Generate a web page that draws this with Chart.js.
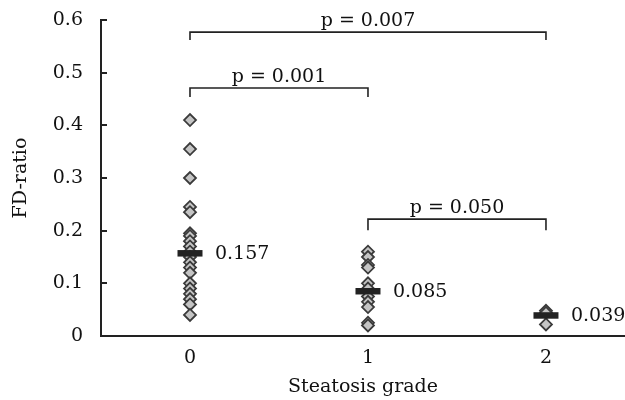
<!DOCTYPE html>
<html>
<head>
<meta charset="utf-8">
<script src="https://cdn.jsdelivr.net/npm/chart.js@4/dist/chart.umd.min.js"></script>
<style>
  html, body { margin: 0; padding: 0; background: #fff; }
  #wrap { width: 625px; height: 400px; }
</style>
</head>
<body>
<div id="wrap"><canvas id="fdChart"></canvas></div>
<script>
const grades = [0, 1, 2];
const grade0 = [0.41, 0.355, 0.30, 0.245, 0.235, 0.195, 0.19, 0.18, 0.17, 0.16, 0.15, 0.14, 0.13, 0.12, 0.10, 0.09, 0.08, 0.07, 0.06, 0.04];
const grade1 = [0.16, 0.15, 0.135, 0.13, 0.10, 0.09, 0.075, 0.065, 0.055, 0.025, 0.02];
const grade2 = [0.048, 0.044, 0.022];
const means = [0.157, 0.085, 0.039];
const meanLabels = ['0.157', '0.085', '0.039'];
const yTicks = [0, 0.1, 0.2, 0.3, 0.4, 0.5, 0.6];

// significance brackets
const bracketFrom = [0, 0, 1];
const bracketTo = [2, 1, 2];
const bracketTop = [0.577, 0.471, 0.222];
const bracketFoot = [0.562, 0.454, 0.201];
const bracketLabels = ['p = 0.007', 'p = 0.001', 'p = 0.050'];

const serif = 'DejaVu Serif';
const fsize = 19;

function toPoints(x, vals) {
  return vals.map(v => ({ x: x, y: v }));
}

const annotate = {
  id: 'annotate',
  afterDraw(chart) {
    const ctx = chart.ctx;
    const xs = chart.scales.x;
    const ys = chart.scales.y;
    ctx.save();
    // inward y ticks
    ctx.strokeStyle = '#222';
    ctx.lineWidth = 2;
    yTicks.forEach(t => {
      const py = Math.round(ys.getPixelForValue(t));
      ctx.beginPath();
      ctx.moveTo(xs.left, py);
      ctx.lineTo(xs.left + 6, py);
      ctx.stroke();
    });
    // mean labels
    ctx.fillStyle = '#111';
    ctx.font = fsize + 'px "' + serif + '"';
    ctx.textBaseline = 'middle';
    ctx.textAlign = 'left';
    means.forEach((m, i) => {
      ctx.fillText(meanLabels[i], xs.getPixelForValue(grades[i]) + 25, ys.getPixelForValue(m) + 1);
    });
    // brackets
    ctx.lineWidth = 1.6;
    ctx.strokeStyle = '#222';
    ctx.textAlign = 'center';
    ctx.textBaseline = 'alphabetic';
    bracketLabels.forEach((lab, i) => {
      const x1 = xs.getPixelForValue(bracketFrom[i]);
      const x2 = xs.getPixelForValue(bracketTo[i]);
      const yt = ys.getPixelForValue(bracketTop[i]);
      const yf = ys.getPixelForValue(bracketFoot[i]);
      ctx.beginPath();
      ctx.moveTo(x1, yf);
      ctx.lineTo(x1, yt);
      ctx.lineTo(x2, yt);
      ctx.lineTo(x2, yf);
      ctx.stroke();
      ctx.fillText(lab, (x1 + x2) / 2, yt - 6);
    });
    ctx.restore();
  }
};

const diamondStyle = {
  pointStyle: 'rectRot',
  pointRadius: 6,
  pointHoverRadius: 6,
  pointBackgroundColor: '#c4c4c4',
  pointBorderColor: '#3a3a3a',
  pointBorderWidth: 1.8,
  showLine: false
};

new Chart(document.getElementById('fdChart'), {
  type: 'scatter',
  data: {
    datasets: [
      {
        label: 'mean',
        data: means.map((m, i) => ({ x: grades[i], y: m })),
        pointStyle: 'line',
        pointRadius: 12.5,
        pointHoverRadius: 12.5,
        borderColor: '#222',
        pointBorderColor: '#222',
        pointBorderWidth: 6.5,
        showLine: false
      },
      Object.assign({ label: 'grade 0', data: toPoints(0, grade0) }, diamondStyle),
      Object.assign({ label: 'grade 1', data: toPoints(1, grade1) }, diamondStyle),
      Object.assign({ label: 'grade 2', data: toPoints(2, grade2) }, diamondStyle)
    ]
  },
  options: {
    responsive: true,
    maintainAspectRatio: false,
    animation: false,
    layout: { autoPadding: false, padding: { top: 20, right: 0, left: 0, bottom: 0 } },
    plugins: { legend: { display: false }, tooltip: { enabled: false } },
    scales: {
      x: {
        type: 'linear',
        min: -0.5,
        max: 2.444,
        afterBuildTicks: s => { s.ticks = grades.map(g => ({ value: g })); },
        afterFit: s => { s.height = 64; },
        grid: { display: false, drawTicks: false },
        border: { display: true, color: '#222', width: 2 },
        ticks: { color: '#111', padding: 11, font: { family: serif, size: fsize } },
        title: { display: true, text: 'Steatosis grade', color: '#111', font: { family: serif, size: fsize }, padding: { top: 0, bottom: 2 } }
      },
      y: {
        min: 0,
        max: 0.6,
        afterBuildTicks: s => { s.ticks = yTicks.map(v => ({ value: v })); },
        afterFit: s => { s.width = 101; },
        // invisible outer tick marks keep the labels away from the axis
        grid: { display: true, drawOnChartArea: false, drawTicks: true, tickLength: 16, color: 'rgba(0,0,0,0)' },
        border: { display: true, color: '#222', width: 2 },
        ticks: {
          color: '#111', padding: 2, font: { family: serif, size: fsize },
          callback: v => (v === 0 ? '0' : v.toFixed(1))
        },
        title: { display: true, text: 'FD-ratio', color: '#111', font: { family: serif, size: fsize }, padding: { top: 10, bottom: 0 } }
      }
    }
  },
  plugins: [annotate]
});
</script>
</body>
</html>
